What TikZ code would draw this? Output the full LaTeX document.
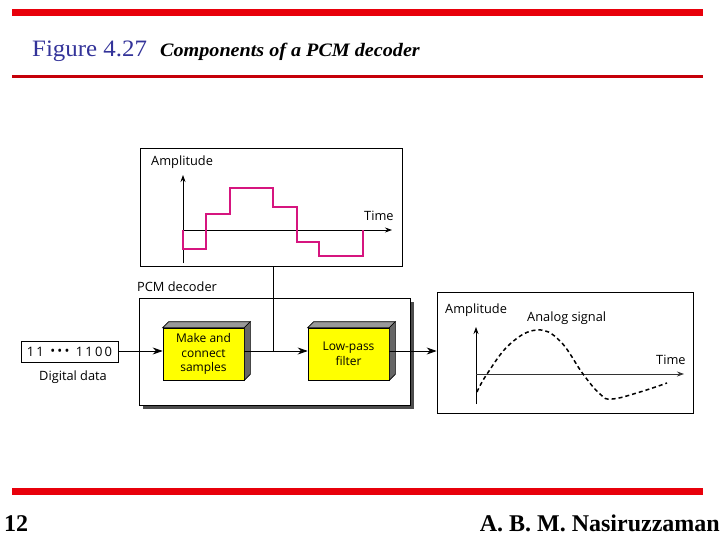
\documentclass[tikz,border=0pt]{standalone}
\usepackage{fontspec}
\setmainfont{Liberation Serif}
\newfontfamily\diagfont{Open Sans}
\usetikzlibrary{arrows.meta}
\definecolor{barred}{HTML}{E8000B}
\definecolor{titleblue}{HTML}{333399}
\definecolor{pcmpink}{HTML}{D6157F}
\definecolor{boxyellow}{HTML}{FFFF00}
\begin{document}
\begin{tikzpicture}[x=1pt,y=-1pt,
  lbl/.style={font=\diagfont\fontsize{12.8}{14}\selectfont, inner sep=0pt},
  blocklbl/.style={font=\diagfont\fontsize{12}{14.5}\selectfont, align=center},
  frame/.style={draw=black, line width=0.7pt},
  axis/.style={line width=0.8pt, -{Stealth[length=7pt,width=5pt]}},
  conn/.style={line width=0.8pt, -{Stealth[length=10pt,width=7pt]}},
  yblock/.style={draw=black, fill=boxyellow, line width=0.6pt, minimum width=81pt, minimum height=52pt, inner sep=1pt, blocklbl}
]
\useasboundingbox (0,0) rectangle (720,540);
% bars
\fill[barred] (12,9) rectangle (703,16);
\fill[barred!85!black] (12,75.5) rectangle (703,78.5);
\fill[barred] (12,488) rectangle (703,495);
% title
\node[anchor=base west, inner sep=0pt, text=titleblue, font=\fontsize{23.5}{26}\selectfont] (fig) at (32,57) {\scalebox{1.06}[1]{Figure 4.27}};
\node[anchor=base west, inner sep=0pt, font=\bfseries\itshape\fontsize{19}{22}\selectfont] (cap) at (160,57) {\scalebox{1.06}[1]{Components of a PCM decoder}};
% footer
\node[anchor=base west, inner sep=0pt, font=\bfseries\fontsize{24}{26}\selectfont] (pg) at (4,531) {12};
\node[anchor=base east, inner sep=0pt, font=\bfseries\fontsize{24}{26}\selectfont] (auth) at (720,531) {A. B. M. Nasiruzzaman};

% top plot box
\node[frame, minimum width=262pt, minimum height=118pt, inner sep=0pt] (topbox) at (271,207.5) {};
\node[lbl, anchor=west] (amp1) at (151,162.5) {Amplitude};
\node[lbl, anchor=west] (time1) at (364,216) {Time};
\coordinate (o1) at (183,230);
\draw[axis] (183,263) -- (183,175);
\draw[axis] (o1) -- (392,230);
\draw[pcmpink, line width=1.5pt] (183,230) -- (183,249) -- (206,249) -- (206,214) -- (230,214) -- (230,188) -- (273,188) -- (273,207) -- (297,207) -- (297,242) -- (319,242) -- (319,256) -- (363,256) -- (363,230);

% decoder
\node[lbl, anchor=west] (pcmlbl) at (137,287) {PCM decoder};
\fill[black!70] (143,302) rectangle (414,409);
\node[frame, fill=white, minimum width=271pt, minimum height=107pt, inner sep=0pt] (dec) at (274.5,351.5) {};

% blocks
\node[yblock] (make) at (203.5,354) {Make and\\connect\\samples};
\node[yblock] (lpf) at (348.5,354) {Low-pass\\filter};
\foreach \b in {make,lpf}{
  \filldraw[fill=black!40, draw=black, line width=0.6pt] (\b.north west) -- ++(6,-6) -- ([shift={(6,-6)}]\b.north east) -- (\b.north east) -- cycle;
  \filldraw[fill=black!60, draw=black, line width=0.6pt] (\b.north east) -- ++(6,-6) -- ([shift={(6,-6)}]\b.south east) -- (\b.south east) -- cycle;
}

% digital data
\node[draw=black, line width=0.6pt, minimum width=97pt, minimum height=21pt, inner sep=0pt, font=\diagfont\fontsize{13}{14}\selectfont] (dd) at (69.5,352) {1\,1\enspace\raisebox{1pt}{\textbullet\,\textbullet\,\textbullet}\enspace1\,1\,0\,0};
\node[lbl] (ddl) at (73,377) {Digital data};

% analog box
\node[frame, minimum width=256pt, minimum height=121pt, inner sep=0pt] (ana) at (565,352.5) {};
\node[lbl, anchor=west] (amp2) at (445,310) {Amplitude};
\node[lbl, anchor=west] (asig) at (527,318) {Analog signal};
\node[lbl, anchor=west] (time2) at (656,359.5) {Time};
\draw[axis] (476,404) -- (476,327);
\draw[axis, draw=black!80] (476,374) -- (684,374);
\draw[line width=1.5pt, dash pattern=on 4pt off 3pt] plot[smooth, tension=0.7] coordinates {(477,392) (487,374) (510,344) (537,330) (560,341) (583,374) (600,394) (612,399) (640,392) (667,383)};

% connectors
\coordinate (mid) at (273,351);
\draw[conn] (dd.east |- 0,351) -- (make.west |- 0,351);
\draw[conn] (make.east |- 0,351) -- (lpf.west |- 0,351);
\draw[line width=0.8pt] (topbox.south -| mid) -- (mid);
\draw[conn] (lpf.east |- 0,351) -- (ana.west |- 0,351);
\end{tikzpicture}
\end{document}
